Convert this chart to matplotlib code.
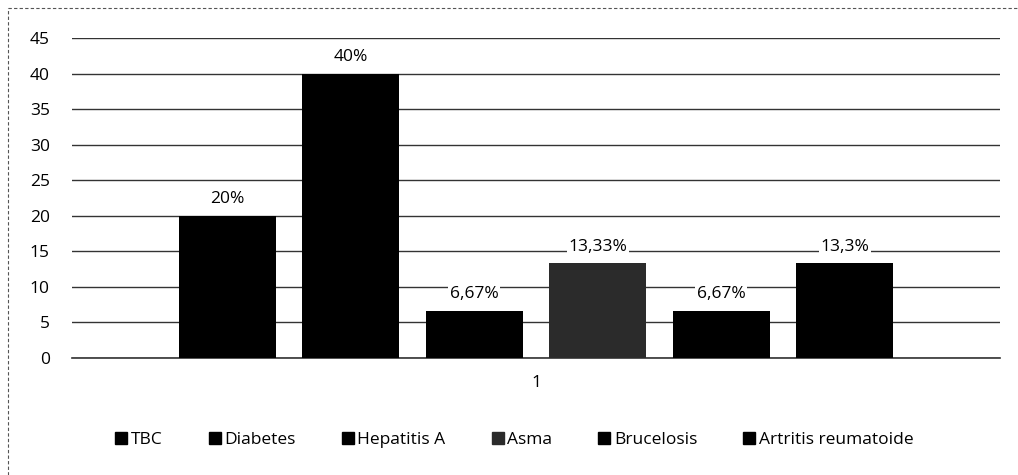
import matplotlib.pyplot as plt
from matplotlib.lines import Line2D

# Data
diseases = ["TBC", "Diabetes", "Hepatitis A", "Asma", "Brucelosis", "Artritis reumatoide"]
values = [20, 40, 6.67, 13.33, 6.67, 13.3]
labels = ["20%", "40%", "6,67%", "13,33%", "6,67%", "13,3%"]
colors = ["#000000", "#000000", "#000000", "#2b2b2b", "#000000", "#000000"]
yticks = [0, 5, 10, 15, 20, 25, 30, 35, 40, 45]

plt.rcParams['font.family'] = ['Open Sans', 'DejaVu Sans']

fig = plt.figure(figsize=(10.18, 4.75), dpi=100)
ax = fig.add_axes([72 / 1018, 1 - 358 / 475, 928 / 1018, 320 / 475])

n = len(values)
step = 0.16
width = 0.126
offsets = [(i - (n - 1) / 2) * step for i in range(n)]

for i in range(n):
    x = 1 + offsets[i]
    ax.bar(x, values[i], width=width, color=colors[i], label=diseases[i], zorder=2)
    ax.text(x, values[i] + 1.2, labels[i], ha='center', va='bottom', fontsize=12.5,
            bbox=dict(facecolor='white', edgecolor='none', pad=1), zorder=3)

# x range so that bars land where they are in the picture
half = (536 - 72) / 123.5 * step
ax.set_xlim(1 - half, 1 + (1000 - 536) / 123.5 * step)
ax.set_ylim(0, 45)
ax.set_yticks(yticks)
ax.set_xticks([1])
ax.set_xticklabels(["1"])
ax.tick_params(axis='both', length=0, labelsize=12.5)
ax.tick_params(axis='y', pad=16)
ax.tick_params(axis='x', pad=12)
ax.grid(axis='y', color='#333333', linewidth=1, zorder=0)
ax.axhline(0, color='#333333', linewidth=1.2, zorder=1, clip_on=False)
for s in ax.spines.values():
    s.set_visible(False)

handles = [Line2D([0], [0], marker='s', color='none', markerfacecolor=c,
                  markeredgecolor=c, markersize=8) for c in colors]
fig.legend(handles, diseases, loc='center', bbox_to_anchor=(514 / 1018, 1 - 440 / 475),
           ncol=6, frameon=False, fontsize=12.5, handletextpad=0.15, columnspacing=2.6,
           handlelength=0.8)

# chart border (dashed, as in the scan)
fig.add_artist(Line2D([8 / 1018, 8 / 1018], [0, 1 - 8 / 475], transform=fig.transFigure,
                      color='#555555', linewidth=0.8, linestyle=(0, (3, 2))))
fig.add_artist(Line2D([8 / 1018, 1], [1 - 8 / 475, 1 - 8 / 475], transform=fig.transFigure,
                      color='#555555', linewidth=0.8, linestyle=(0, (3, 2))))

fig.savefig("out.png", dpi=100)
